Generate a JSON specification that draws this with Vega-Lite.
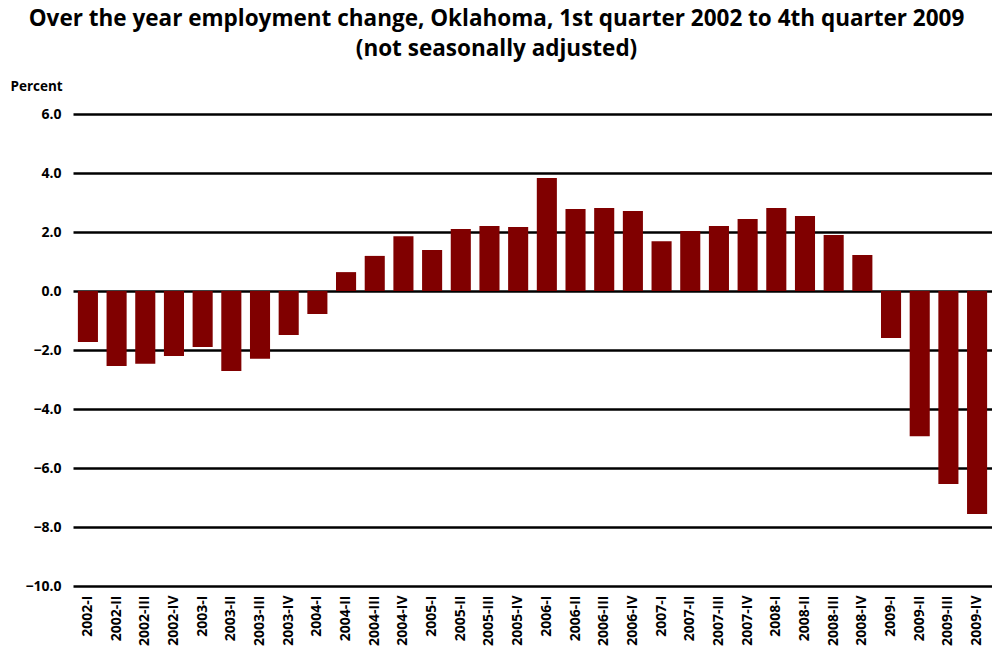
{
  "$schema": "https://vega.github.io/schema/vega-lite/v6.json",
  "width": 919,
  "height": 472,
  "autosize": {"type": "none"},
  "padding": {"left": 73, "top": 114, "right": 0, "bottom": 70},
  "background": "white",
  "title": {
    "text": ["Over the year employment change, Oklahoma, 1st quarter 2002 to 4th quarter 2009", "(not seasonally adjusted)"],
    "font": "Open Sans",
    "fontSize": 22.5,
    "fontWeight": "bold",
    "color": "black",
    "anchor": "middle",
    "dx": -36,
    "offset": 19,
    "lineHeight": 30
  },
  "data": {
    "values": [
      {"q": "2002-I", "v": -1.73},
      {"q": "2002-II", "v": -2.54},
      {"q": "2002-III", "v": -2.47},
      {"q": "2002-IV", "v": -2.2},
      {"q": "2003-I", "v": -1.9},
      {"q": "2003-II", "v": -2.71},
      {"q": "2003-III", "v": -2.3},
      {"q": "2003-IV", "v": -1.49},
      {"q": "2004-I", "v": -0.78},
      {"q": "2004-II", "v": 0.64},
      {"q": "2004-III", "v": 1.19},
      {"q": "2004-IV", "v": 1.86},
      {"q": "2005-I", "v": 1.39},
      {"q": "2005-II", "v": 2.1},
      {"q": "2005-III", "v": 2.2},
      {"q": "2005-IV", "v": 2.17},
      {"q": "2006-I", "v": 3.83},
      {"q": "2006-II", "v": 2.78},
      {"q": "2006-III", "v": 2.81},
      {"q": "2006-IV", "v": 2.71},
      {"q": "2007-I", "v": 1.69},
      {"q": "2007-II", "v": 2.03},
      {"q": "2007-III", "v": 2.2},
      {"q": "2007-IV", "v": 2.44},
      {"q": "2008-I", "v": 2.81},
      {"q": "2008-II", "v": 2.54},
      {"q": "2008-III", "v": 1.9},
      {"q": "2008-IV", "v": 1.22},
      {"q": "2009-I", "v": -1.59},
      {"q": "2009-II", "v": -4.92},
      {"q": "2009-III", "v": -6.54},
      {"q": "2009-IV", "v": -7.56}
    ]
  },
  "mark": {"type": "bar", "color": "#800000"},
  "encoding": {
    "x": {
      "field": "q",
      "type": "nominal",
      "sort": null,
      "scale": {"paddingInner": 0.3, "paddingOuter": 0.17},
      "axis": {
        "title": null,
        "labelAngle": 270,
        "labelFont": "Open Sans",
        "labelFontSize": 14,
        "labelFontWeight": "bold",
        "labelColor": "black",
        "labelPadding": 9,
        "ticks": false,
        "domain": false
      }
    },
    "y": {
      "field": "v",
      "type": "quantitative",
      "scale": {"domain": [-10, 6], "nice": false, "zero": false},
      "axis": {
        "title": "Percent",
        "titleAngle": 0,
        "titleX": -63,
        "titleY": -28,
        "titleAlign": "left",
        "titleBaseline": "middle",
        "titleFont": "Open Sans",
        "titleFontSize": 13.5,
        "titleFontWeight": "bold",
        "titleColor": "black",
        "values": [-10, -8, -6, -4, -2, 0, 2, 4, 6],
        "format": ".1f",
        "labelFont": "Open Sans",
        "labelFontSize": 14,
        "labelFontWeight": "bold",
        "labelColor": "black",
        "labelPadding": 12,
        "ticks": false,
        "domain": false,
        "grid": true,
        "gridColor": "black",
        "gridWidth": 2.5,
        "gridOpacity": 1
      }
    }
  },
  "config": {
    "view": {"stroke": null}
  }
}
